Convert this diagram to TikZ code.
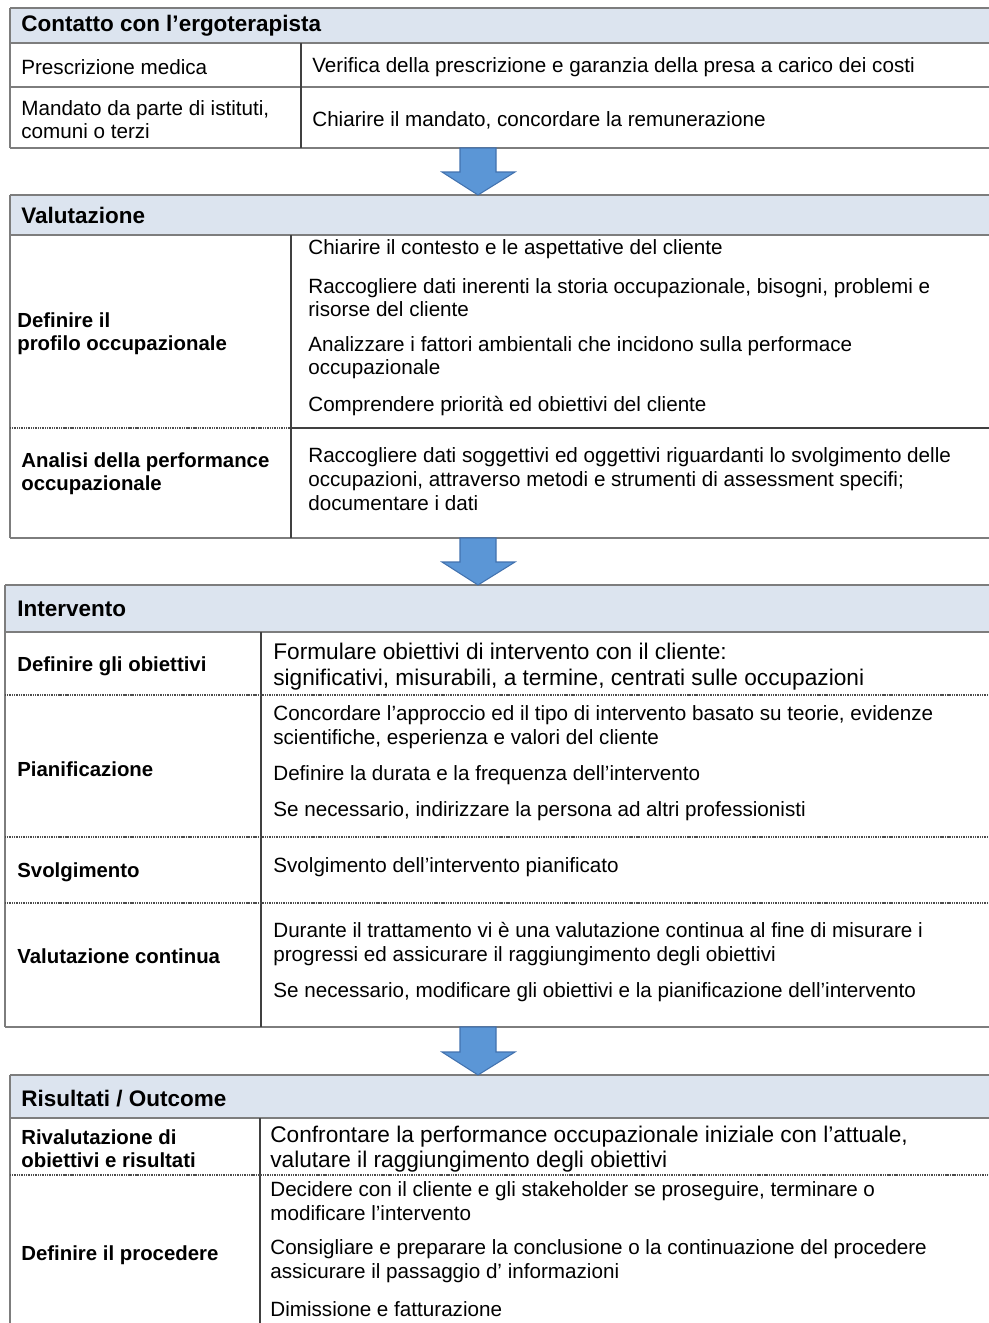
\documentclass[tikz,border=0pt]{standalone}
\usepackage{fontspec}
\setmainfont{Liberation Sans}
\definecolor{headfill}{RGB}{220,228,239}
\definecolor{rulegray}{RGB}{125,125,125}
\definecolor{arrowfill}{RGB}{91,150,214}
\definecolor{arrowline}{RGB}{66,114,175}

\tikzset{
	flowpicture/.style = {
		x = 0.02cm,
		y = -0.02cm,
		outer/.style = {
			draw = rulegray,
			line width = 0.9pt
		},
		divider/.style = {
			draw = black!75,
			line width = 0.8pt
		},
		rowsep/.style = {
			draw = black!70,
			line width = 0.7pt,
			dash pattern = on 0.6pt off 0.4pt
		}
	},
	celltext/.style = {
		anchor = west,
		inner sep = 0pt,
		align = left,
		yshift = -1.2pt,
		font = \fontsize{11.75}{13.6}\selectfont
	},
	celllabel/.style = {
		celltext,
		font = \fontsize{11.6}{13.2}\selectfont\bfseries
	},
	cellhead/.style = {
		celltext,
		font = \fontsize{12.8}{14}\selectfont\bfseries
	},
	cellbig/.style = {
		celltext,
		font = \fontsize{12.9}{14.3}\selectfont
	},
	blockarrow/.style = {
		fill = arrowfill,
		draw = arrowline,
		line width = 0.6pt,
		line join = miter
	}
}

\begin{document}
\begin{tikzpicture}[flowpicture]
	\useasboundingbox (0,0) rectangle (989,1323);

	\fill[headfill] (10,8) rectangle (989,43);
	\fill[headfill] (10,195) rectangle (989,235);
	\fill[headfill] (5,585) rectangle (989,632);
	\fill[headfill] (10,1075) rectangle (989,1118);

	\path[outer] (10,8) -- (989,8) (10,43) -- (989,43) (10,87) -- (989,87) (10,148) -- (989,148);
	\path[outer] (10,8) -- (10,148);
	\path[divider] (301,43) -- (301,148);

	\path[outer] (10,195) -- (989,195) (10,235) -- (989,235) (10,538) -- (989,538);
	\path[outer] (10,195) -- (10,538);
	\path[divider] (291,235) -- (291,538);
	\path[rowsep] (10,428) -- (291,428);
	\path[divider] (291,428) -- (989,428);

	\path[outer] (5,585) -- (989,585) (5,632) -- (989,632) (5,1027) -- (989,1027);
	\path[outer] (5,585) -- (5,1027);
	\path[divider] (261,632) -- (261,1027);
	\path[rowsep] (5,695) -- (989,695) (5,837) -- (989,837) (5,903) -- (989,903);

	\path[outer] (10,1075) -- (989,1075) (10,1118) -- (989,1118);
	\path[outer] (10,1075) -- (10,1323);
	\path[divider] (260,1118) -- (260,1323);
	\path[rowsep] (10,1175) -- (989,1175);

	\foreach \top/\tip in {148/195, 538/585, 1027/1075}
		\path[blockarrow] (460,\top) -- (496,\top) -- (496,\tip-23) -- (515,\tip-23)
			-- (478,\tip) -- (442,\tip-23) -- (460,\tip-23) -- cycle;

	\node[cellhead] (contatto) at (21,24) {Contatto con l’ergoterapista};
	\node[celltext] (prescrizione) at (21,65) {Prescrizione medica};
	\node[celltext] (verifica) at (312,65) {Verifica della prescrizione e garanzia della presa a carico dei costi};
	\node[celltext] (mandato) at (21,117.5) {Mandato da parte di istituti,\\comuni o terzi};
	\node[celltext] (chiarire) at (312,118) {Chiarire il mandato, concordare la remunerazione};

	\node[cellhead] (valutazione) at (21,213) {Valutazione};
	\node[celllabel] (profilo) at (17,331.5) {Definire il\\profilo occupazionale};
	\node[celltext] (contesto) at (308,247) {Chiarire il contesto e le aspettative del cliente};
	\node[celltext] (storia) at (308,295.5) {Raccogliere dati inerenti la storia occupazionale, bisogni, problemi e\\risorse del cliente};
	\node[celltext] (ambiente) at (308,355.5) {Analizzare i fattori ambientali che incidono sulla performace\\occupazionale};
	\node[celltext] (priorita) at (308,404) {Comprendere priorità ed obiettivi del cliente};
	\node[celllabel] (analisi) at (21,471.5) {Analisi della performance\\occupazionale};
	\node[celltext] (dati) at (308,477) {Raccogliere dati soggettivi ed oggettivi riguardanti lo svolgimento delle\\occupazioni, attraverso metodi e strumenti di assessment specifi;\\documentare i dati};

	\node[cellhead] (intervento) at (17,607) {Intervento};
	\node[celllabel] (obiettivi) at (17,664) {Definire gli obiettivi};
	\node[cellbig] (formulare) at (273,664.5) {Formulare obiettivi di intervento con il cliente:\\significativi, misurabili, a termine, centrati sulle occupazioni};
	\node[celllabel] (pianificazione) at (17,767) {Pianificazione};
	\node[celltext] (approccio) at (273,725) {Concordare l’approccio ed il tipo di intervento basato su teorie, evidenze\\scientifiche, esperienza e valori del cliente};
	\node[celltext] (durata) at (273,773) {Definire la durata e la frequenza dell’intervento};
	\node[celltext] (indirizzare) at (273,809) {Se necessario, indirizzare la persona ad altri professionisti};
	\node[celllabel] (svolgimento) at (17,870) {Svolgimento};
	\node[celltext] (pianificato) at (273,865) {Svolgimento dell’intervento pianificato};
	\node[celllabel] (continua) at (17,954) {Valutazione continua};
	\node[celltext] (trattamento) at (273,942) {Durante il trattamento vi è una valutazione continua al fine di misurare i\\progressi ed assicurare il raggiungimento degli obiettivi};
	\node[celltext] (modificare) at (273,990) {Se necessario, modificare gli obiettivi e la pianificazione dell’intervento};

	\node[cellhead] (risultati) at (21,1096) {Risultati / Outcome};
	\node[celllabel] (rivalutazione) at (21,1146.5) {Rivalutazione di\\obiettivi e risultati};
	\node[cellbig] (confrontare) at (270,1147) {Confrontare la performance occupazionale iniziale con l’attuale,\\valutare il raggiungimento degli obiettivi};
	\node[celllabel] (procedere) at (21,1253) {Definire il procedere};
	\node[celltext] (decidere) at (270,1199) {Decidere con il cliente e gli stakeholder se proseguire, terminare o\\modificare l’intervento};
	\node[celltext] (consigliare) at (270,1259) {Consigliare e preparare la conclusione o la continuazione del procedere\\assicurare il passaggio d’ informazioni};
	\node[celltext] (dimissione) at (270,1307) {Dimissione e fatturazione};
\end{tikzpicture}
\end{document}
